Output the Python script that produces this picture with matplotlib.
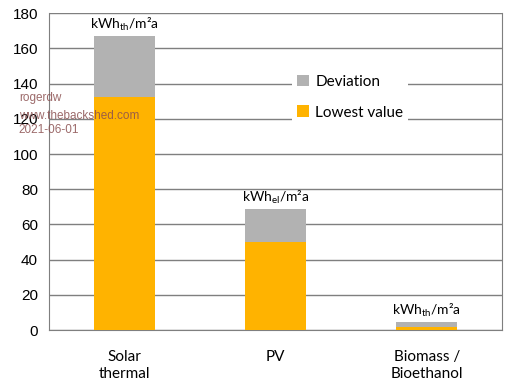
import matplotlib.pyplot as plt
import numpy as np

plt.rcParams['mathtext.default'] = 'regular'

categories = ['Solar\nthermal', 'PV', 'Biomass /\nBioethanol']
lowest_value = [132.5, 50, 1.5]
deviation = [34.5, 18.5, 3]
unit_labels = ['kWh$_{th}$/m²a', 'kWh$_{el}$/m²a', 'kWh$_{th}$/m²a']
y_ticks = [0, 20, 40, 60, 80, 100, 120, 140, 160, 180]

orange = '#FFB300'
grey = '#B2B2B2'

fig = plt.figure(figsize=(5.22, 3.87), dpi=100)
ax = fig.add_axes([0.094, 0.147, 0.868, 0.819])

x = np.arange(len(categories))
ax.bar(x, lowest_value, width=0.4, color=orange, label='Lowest value', zorder=3)
ax.bar(x, deviation, width=0.4, bottom=lowest_value, color=grey, label='Deviation', zorder=3)

# unit labels above each bar
for xi, lo, dv, lab in zip(x, lowest_value, deviation, unit_labels):
    ax.text(xi, lo + dv + 2, lab, ha='center', va='bottom', fontsize=10,
            family='Lato', zorder=4)

ax.set_xlim(-0.5, 2.5)
ax.set_ylim(0, 180)
ax.set_yticks(y_ticks)
ax.set_xticks(x)
ax.set_xticklabels(categories, fontsize=11, family='Lato', linespacing=1.3)
ax.tick_params(axis='both', length=0)
ax.tick_params(axis='y', labelsize=11, pad=8)
ax.tick_params(axis='x', pad=14)
for t in ax.get_yticklabels():
    t.set_family('Liberation Sans')

ax.yaxis.grid(True, color='#7F7F7F', linewidth=1, zorder=0)
ax.spines['top'].set_visible(False)
for s in ['left', 'right', 'bottom']:
    ax.spines[s].set_color('#7F7F7F')

handles, labels = ax.get_legend_handles_labels()
leg = ax.legend(handles[::-1], labels[::-1], loc='upper left',
                bbox_to_anchor=(0.52, 0.845), frameon=True, fancybox=False,
                edgecolor='none', facecolor='white', framealpha=1,
                handlelength=0.8, handleheight=0.8, handletextpad=0.4,
                labelspacing=1.1, borderpad=0.3,
                prop={'family': 'Lato', 'size': 11})
leg.set_zorder(5)

# watermark
for yy, txt in zip([0.747, 0.700, 0.664], ['rogerdw', 'www.thebackshed.com', '2021-06-01']):
    fig.text(0.036, yy, txt, fontsize=8.5, color='#8B5050', alpha=0.85,
             family='Liberation Sans', va='center')

fig.savefig('out.png', dpi=100)
